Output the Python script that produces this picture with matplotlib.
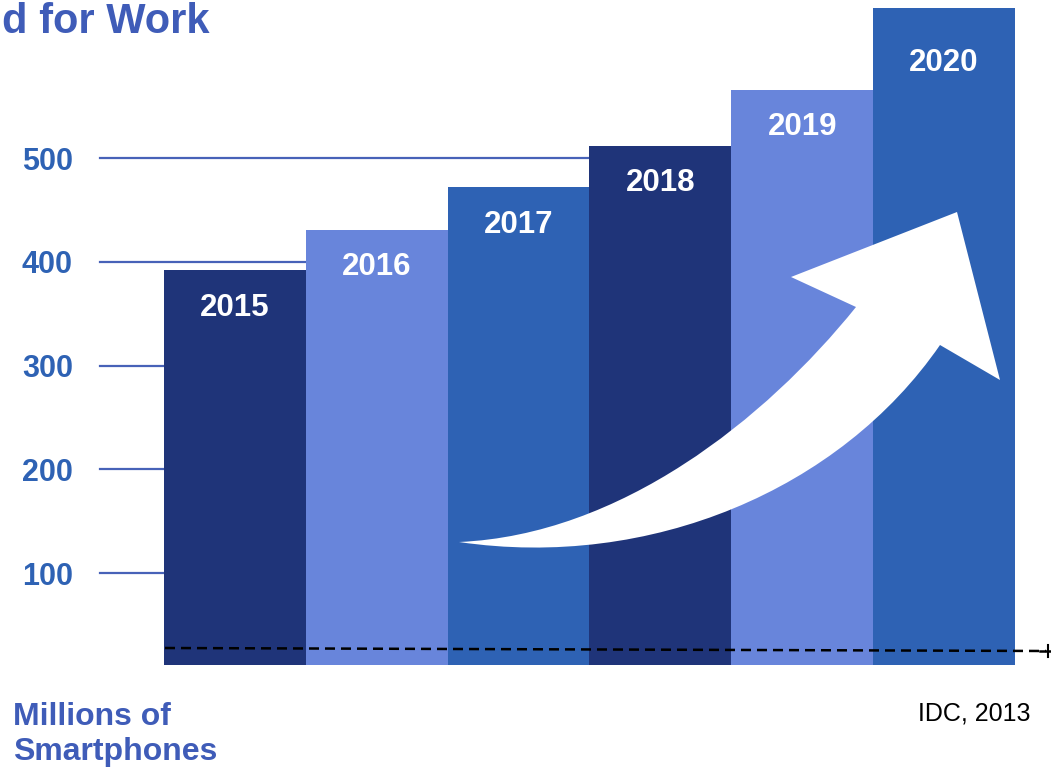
import matplotlib.pyplot as plt
from matplotlib.path import Path
from matplotlib.patches import PathPatch
from matplotlib.transforms import blended_transform_factory

# Smartphones usados no trabalho (milhões) - IDC, 2013
anos = ["2015", "2016", "2017", "2018", "2019", "2020"]
milhoes = [392, 431, 472, 512, 566, 645]
cores = ["#1f3479", "#6885db", "#2e62b4", "#1f3479", "#6885db", "#2e62b4"]
marcas = [100, 200, 300, 400, 500]

plt.rcParams["font.family"] = ["Liberation Sans", "DejaVu Sans"]

fig = plt.figure(figsize=(10.51, 7.71), dpi=100)

# eixo das barras ocupa a figura toda
ax = fig.add_axes([0, 0, 1, 1])
ax.set_xlim(-1.657, 5.755)
ax.set_ylim(-90.8, 652.3)
ax.axis("off")

base = 11
x = list(range(len(anos)))
ax.bar(x, [v - base for v in milhoes], bottom=base, width=1.0,
       color=cores, zorder=2)

mix = blended_transform_factory(ax.transAxes, ax.transData)
for v in marcas:
    ax.axhline(v, xmin=100 / 1051, xmax=0.9, color="#4762b8", lw=1.6, zorder=1)
    ax.text(73 / 1051, v, str(v), transform=mix, ha="right", va="center_baseline",
            fontsize=22, fontweight="bold", color="#2e62b4")

for i, (ano, v) in enumerate(zip(anos, milhoes)):
    desl = -24.5 if i < len(anos) - 1 else -37.5
    ax.annotate(ano, (i, v), xytext=(0, desl), textcoords="offset points",
                ha="center", va="center_baseline", fontsize=22.5,
                fontweight="bold", color="white", zorder=3)

# camada de cima em pixels: seta, linha tracejada e textos
ov = fig.add_axes([0, 0, 1, 1])
ov.set_xlim(0, 1051)
ov.set_ylim(771, 0)
ov.axis("off")
ov.patch.set_alpha(0)

verts = [
    (459, 542),
    (620, 535), (765, 420), (856, 307),
    (791, 277),
    (957, 212),
    (1000, 380),
    (940, 345),
    (840, 490), (650, 570), (459, 542),
    (459, 542),
]
codes = [Path.MOVETO,
         Path.CURVE4, Path.CURVE4, Path.CURVE4,
         Path.LINETO, Path.LINETO, Path.LINETO, Path.LINETO,
         Path.CURVE4, Path.CURVE4, Path.CURVE4,
         Path.CLOSEPOLY]
ov.add_patch(PathPatch(Path(verts, codes), facecolor="white",
                       edgecolor="none", zorder=4))

ov.plot([165, 1046], [648, 651], color="black", lw=1.8,
        ls=(0, (4, 2.4)), zorder=5)
ov.plot([1040, 1051], [651, 651], color="black", lw=1.8, zorder=5)
ov.plot([1048, 1048], [645, 657], color="black", lw=1.5, zorder=5)

ov.text(210, 22, "d for Work", ha="right", va="center", fontsize=30,
        fontweight="bold", color="#3f5cb8")
ov.text(13, 725, "Millions of", ha="left", va="baseline", fontsize=23,
        fontweight="bold", color="#3f5cb8")
ov.text(13, 760, "Smartphones", ha="left", va="baseline", fontsize=23,
        fontweight="bold", color="#3f5cb8")
ov.text(1030, 713, "IDC, 2013", ha="right", va="center", fontsize=18,
        color="black")

plt.savefig("out.png", dpi=100)
